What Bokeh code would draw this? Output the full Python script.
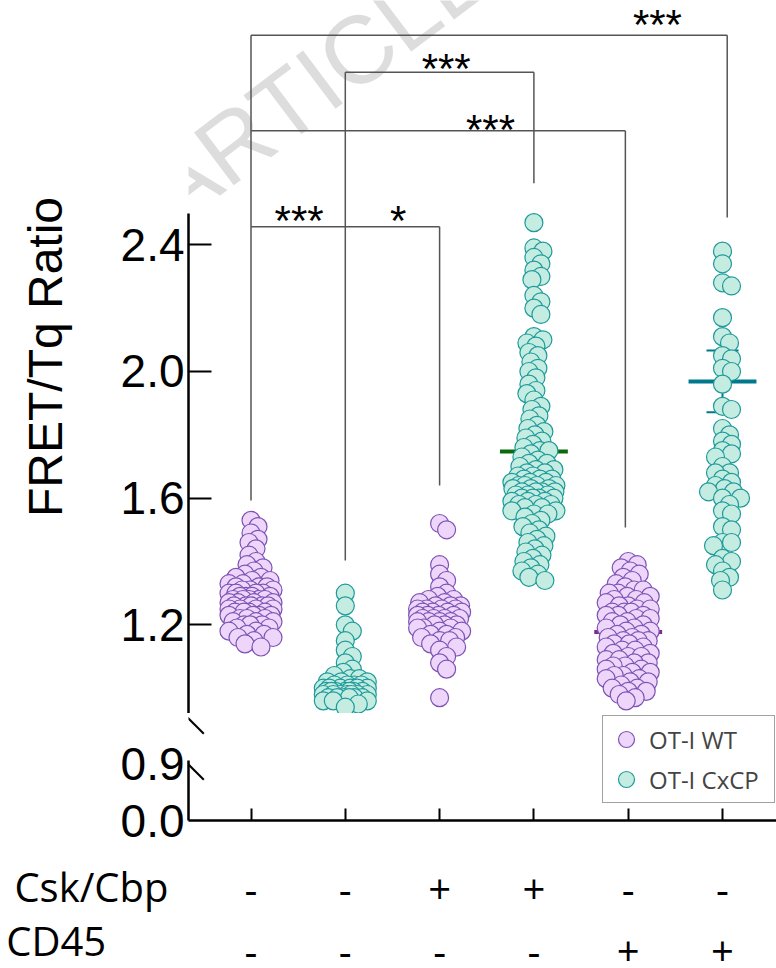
import math
from bokeh.plotting import figure
from bokeh.layouts import column
from bokeh.models import (Range1d, FixedTicker, ColumnDataSource, Legend,
                          LegendItem, Label, Arrow)
from bokeh.core.properties import value
from bokeh.embed import file_html
from bokeh.resources import INLINE

# ---------------- data ----------------
group_pos = [1, 2, 3, 4, 5, 6]
genotype = ["OT-I WT", "OT-I CxCP", "OT-I WT", "OT-I CxCP", "OT-I WT", "OT-I CxCP"]
csk_cbp = ["-", "-", "+", "+", "-", "-"]
cd45 = ["-", "-", "-", "-", "+", "+"]
row_titles = ["Csk/Cbp", "CD45"]

g1 = [1.53, 1.51, 1.49, 1.47, 1.46, 1.44, 1.42, 1.40, 1.39, 1.38, 1.37, 1.36,
      1.35, 1.35, 1.34, 1.34, 1.33, 1.33, 1.32, 1.32, 1.32, 1.31, 1.31, 1.31,
      1.30, 1.30, 1.30, 1.30, 1.29, 1.29, 1.29, 1.29, 1.28, 1.28, 1.28, 1.28, 1.28,
      1.27, 1.27, 1.27, 1.27, 1.26, 1.26, 1.26, 1.26, 1.26, 1.25, 1.25, 1.25, 1.25,
      1.24, 1.24, 1.24, 1.24, 1.23, 1.23, 1.23, 1.23, 1.22, 1.22, 1.22, 1.21, 1.21,
      1.21, 1.20, 1.20, 1.20, 1.19, 1.19, 1.18, 1.18, 1.17, 1.17, 1.16, 1.16, 1.15,
      1.14, 1.13]
g2 = [1.30, 1.26, 1.20, 1.18, 1.15, 1.12, 1.10, 1.08, 1.06, 1.05, 1.04, 1.03, 1.03,
      1.02, 1.02, 1.02, 1.01, 1.01, 1.01, 1.01, 1.00, 1.00, 1.00, 1.00, 1.00, 1.00,
      0.99, 0.99, 0.99, 0.99, 0.99, 0.99, 0.99, 0.98, 0.98, 0.98, 0.98, 0.98, 0.98,
      0.98, 0.97, 0.97, 0.97, 0.97, 0.97, 0.97, 0.96, 0.96, 0.96, 0.95, 0.94]
g3 = [1.52, 1.50, 1.39, 1.36, 1.34, 1.32, 1.30, 1.29, 1.28, 1.28, 1.27, 1.27, 1.26,
      1.26, 1.26, 1.25, 1.25, 1.25, 1.25, 1.24, 1.24, 1.24, 1.24, 1.23, 1.23, 1.23,
      1.23, 1.22, 1.22, 1.22, 1.22, 1.21, 1.21, 1.21, 1.21, 1.20, 1.20, 1.20, 1.19,
      1.19, 1.19, 1.18, 1.18, 1.17, 1.17, 1.16, 1.16, 1.15, 1.15, 1.14, 1.13, 1.12,
      1.10, 1.08, 1.06, 0.97]
g4 = [2.47, 2.39, 2.38, 2.36, 2.34, 2.32, 2.30, 2.29, 2.24, 2.22, 2.20, 2.18, 2.11,
      2.10, 2.09, 2.08, 2.06, 2.05, 2.03, 2.01, 2.00, 1.98, 1.96, 1.94, 1.93, 1.91,
      1.89, 1.88, 1.86, 1.85, 1.83, 1.82, 1.81, 1.80, 1.79, 1.78, 1.77, 1.76, 1.75,
      1.75, 1.74, 1.73, 1.72, 1.71, 1.71, 1.70, 1.69, 1.69, 1.68, 1.68, 1.67, 1.67,
      1.66, 1.66, 1.66, 1.65, 1.65, 1.65, 1.64, 1.64, 1.64, 1.64, 1.63, 1.63, 1.63,
      1.62, 1.62, 1.62, 1.62, 1.61, 1.61, 1.61, 1.60, 1.60, 1.60, 1.60, 1.59, 1.59,
      1.59, 1.58, 1.58, 1.58, 1.57, 1.57, 1.56, 1.56, 1.55, 1.55, 1.54, 1.53, 1.52,
      1.51, 1.50, 1.49, 1.48, 1.47, 1.46, 1.45, 1.44, 1.43, 1.42, 1.41, 1.40, 1.39,
      1.38, 1.37, 1.36, 1.35, 1.34]
g5 = [1.40, 1.39, 1.38, 1.37, 1.36, 1.35, 1.34, 1.33, 1.32, 1.31, 1.31, 1.30, 1.30,
      1.29, 1.29, 1.28, 1.28, 1.27, 1.27, 1.26, 1.26, 1.25, 1.25, 1.24, 1.24, 1.24,
      1.23, 1.23, 1.23, 1.22, 1.22, 1.21, 1.21, 1.20, 1.20, 1.19, 1.19, 1.18, 1.18,
      1.17, 1.17, 1.16, 1.16, 1.15, 1.15, 1.15, 1.14, 1.14, 1.13, 1.13, 1.12, 1.12,
      1.11, 1.11, 1.10, 1.10, 1.09, 1.09, 1.08, 1.08, 1.07, 1.07, 1.06, 1.06, 1.05,
      1.05, 1.04, 1.04, 1.03, 1.03, 1.02, 1.02, 1.01, 1.00, 1.00, 0.99, 0.99, 0.98,
      0.97, 0.96]
g6 = [2.38, 2.34, 2.28, 2.27, 2.17, 2.11, 2.09, 2.05, 2.04, 2.01, 2.00, 1.96, 1.89,
      1.88, 1.82, 1.80, 1.78, 1.77, 1.75, 1.74, 1.73, 1.70, 1.68, 1.68, 1.66, 1.65,
      1.64, 1.63, 1.62, 1.62, 1.60, 1.60, 1.58, 1.56, 1.55, 1.51, 1.50, 1.46, 1.46,
      1.45, 1.41, 1.40, 1.39, 1.37, 1.35, 1.34, 1.31]
group_values = [g1, g2, g3, g4, g5, g6]

mean_group = [4, 5, 6]
mean_value = [1.747, 1.177, 1.968]
err_group = [6]
err_low = [1.871]
err_high = [2.066]

br_from = [1, 2, 1, 1]
br_to = [6, 4, 5, 3]
br_level = [3.062, 2.945, 2.760, 2.457]
leg_x = [1.0, 2.0, 3.0, 4.0, 4.97, 6.05]
leg_end = [1.593, 1.403, 1.640, 2.594, 1.507, 2.486]
sig_text = ["***", "***", "***", "***", "*"]
sig_x = [5.31, 3.07, 3.54, 1.51, 2.56]
sig_y = [3.095, 2.958, 2.764, 2.478, 2.478]

yticks_upper = [1.2, 1.6, 2.0, 2.4]
yticks_lower = [0.0, 0.9]

# ---------------- layout / style ----------------
W = 776
LEFT = 188
FW = W - LEFT
PX_X = 94.3
G1_X = 250.5
X_LO = 1 - (G1_X - LEFT) / PX_X
X_HI = X_LO + FW / PX_X

FH_U = 713
PX_Y = 316.7
Y_TOP = 2.4 + 244.3 / PX_Y
Y_BOT = Y_TOP - FH_U / PX_Y

FH_L = 107
PX_YL = 63.3
BOT_AX = 28
B_TOP = FH_U + FH_L + BOT_AX
FH_B = 967 - B_TOP

WT_FILL, WT_LINE = "#EDD6FA", "#7E52B4"
CX_FILL, CX_LINE = "#C4ECE0", "#1E9A9C"
MEAN_COL = ["#0B6A0B", "#7B2E8C", "#00798C"]
BR_COL = "#555555"
FONT = "Liberation Sans"
FONT2 = "Open Sans"
NBSP = "\u00a0"


def px_to_x(px):
    return 1 + (px - G1_X) / PX_X


def py_to_u(py):
    return 2.4 - (py - 244.3) / PX_Y


def py_to_l(py):
    return (820 - py) / PX_YL


def swarm_offsets(vals, d_eff=9.0, max_off=22.0):
    cands = [0.0]
    for k in range(1, int(max_off) + 1):
        cands += [float(k), -float(k)]
    placed, offs = [], []
    for v in vals:
        y = v * PX_Y
        chosen = None
        best_c, best_d = 0.0, -1.0
        for c in cands:
            md = 1e9
            for (qx, qy) in placed:
                if abs(qy - y) < d_eff:
                    dd = math.hypot(c - qx, y - qy)
                    if dd < md:
                        md = dd
            if md >= d_eff:
                chosen = c
                break
            if md > best_d:
                best_d, best_c = md, c
        if chosen is None:
            chosen = best_c
        placed.append((chosen, y))
        offs.append(chosen)
    return offs


xr = Range1d(X_LO, X_HI)

# ---------------- upper figure ----------------
pu = figure(frame_width=FW, frame_height=FH_U, x_range=xr,
            y_range=Range1d(Y_BOT, Y_TOP), output_backend="svg",
            toolbar_location=None, x_axis_location=None,
            min_border_left=LEFT, min_border_right=0, min_border_top=0,
            min_border_bottom=0, outline_line_color=None)
pu.grid.visible = False
ay = pu.yaxis[0]
ay.ticker = FixedTicker(ticks=yticks_upper)
ay.major_label_overrides = {t: f"{t:.1f}" for t in yticks_upper}
ay.bounds = (0.9, 2.5)
ay.major_tick_in = 23
ay.major_tick_out = 0
ay.minor_tick_line_color = None
ay.major_tick_line_width = 2
ay.axis_line_width = 2.5
ay.major_label_text_font = FONT
ay.major_label_text_font_size = "46px"
ay.major_label_text_color = "black"
ay.major_label_standoff = 4
ay.axis_label = "FRET/Tq Ratio"
ay.axis_label_text_font = FONT
ay.axis_label_text_font_size = "48px"
ay.axis_label_text_font_style = "normal"
ay.axis_label_text_color = "black"
ay.axis_label_standoff = 46

# watermark (annotation, drawn before the bracket annotations)
wm = Label(x=px_to_x(188), y=py_to_u(244), text="ARTICLE IN PRESS",
           angle=37, angle_units="deg", text_font=FONT,
           text_font_size="96px", text_color="#dddddd")
pu.add_layout(wm)

# brackets
bx0, by0, bx1, by1 = [], [], [], []
for a, b, lvl in zip(br_from, br_to, br_level):
    bx0.append(leg_x[a - 1]); by0.append(lvl)
    bx1.append(leg_x[b - 1]); by1.append(lvl)
for i, g in enumerate(group_pos):
    lv = [lvl for a, b, lvl in zip(br_from, br_to, br_level) if g in (a, b)]
    bx0.append(leg_x[i]); by0.append(max(lv))
    bx1.append(leg_x[i]); by1.append(leg_end[i])
br_src = ColumnDataSource(dict(x0=bx0, y0=by0, x1=bx1, y1=by1))
pu.add_layout(Arrow(source=br_src, x_start="x0", y_start="y0", x_end="x1",
                    y_end="y1", start=None, end=None, line_color=BR_COL,
                    line_width=1.5))
pu.text(x=sig_x, y=sig_y, text=sig_text, text_font=value(FONT),
        text_font_size=value("42px"), text_align="center",
        text_baseline="middle", text_color="black")

# mean lines & error bar (under the points)
HALF = 0.36
pu.segment(x0=[g - HALF for g in mean_group], y0=mean_value,
           x1=[g + HALF for g in mean_group], y1=mean_value,
           line_color=MEAN_COL, line_width=4)
pu.segment(x0=err_group, y0=err_low, x1=err_group, y1=err_high,
           line_color=MEAN_COL[2], line_width=2)
CAP = 0.17
pu.segment(x0=[g - CAP for g in err_group] * 2, y0=err_low + err_high,
           x1=[g + CAP for g in err_group] * 2, y1=err_low + err_high,
           line_color=MEAN_COL[2], line_width=2)

# points
for gpos, vals, gt in zip(group_pos, group_values, genotype):
    offs = swarm_offsets(vals)
    src = ColumnDataSource(dict(x=[gpos + o / PX_X for o in offs], y=vals))
    wt = gt == "OT-I WT"
    pu.scatter("x", "y", source=src, size=18, marker="circle",
               fill_color=WT_FILL if wt else CX_FILL,
               line_color=WT_LINE if wt else CX_LINE, line_width=1.2)

# break slash (upper part)
pu.add_layout(Arrow(start=None, end=None, x_start=px_to_x(172.7), y_start=py_to_u(702.7),
                    x_end=px_to_x(203.3), y_end=py_to_u(733.3),
                    line_color="black", line_width=2))

# ---------------- lower figure ----------------
pl = figure(frame_width=FW, frame_height=FH_L, x_range=xr,
            y_range=Range1d(0, FH_L / PX_YL), output_backend="svg",
            toolbar_location=None, min_border_left=LEFT, min_border_right=0,
            min_border_top=0, min_border_bottom=BOT_AX, outline_line_color=None)
pl.grid.visible = False
ly = pl.yaxis[0]
ly.ticker = FixedTicker(ticks=yticks_lower)
ly.major_label_overrides = {t: f"{t:.1f}" for t in yticks_lower}
ly.bounds = (0.0, 0.95)
ly.major_tick_in = 0
ly.major_tick_out = 0
ly.minor_tick_line_color = None
ly.axis_line_width = 2.5
ly.major_label_text_font = FONT
ly.major_label_text_font_size = "46px"
ly.major_label_text_color = "black"
ly.major_label_standoff = 4
lx = pl.xaxis[0]
lx.ticker = FixedTicker(ticks=group_pos)
lx.major_label_text_font_size = "1px"
lx.major_label_text_color = None
lx.major_label_standoff = 0
lx.major_tick_in = 12
lx.major_tick_out = 0
lx.minor_tick_line_color = None
lx.major_tick_line_width = 2
lx.axis_line_width = 2.5

pl.add_layout(Arrow(start=None, end=None, x_start=px_to_x(172.7), y_start=py_to_l(702.7),
                    x_end=px_to_x(203.3), y_end=py_to_l(733.3),
                    line_color="black", line_width=2))
pl.add_layout(Arrow(start=None, end=None, x_start=px_to_x(183.3), y_start=py_to_l(759.3),
                    x_end=px_to_x(203.3), y_end=py_to_l(779.3),
                    line_color="black", line_width=2))

nan = float("nan")
r_wt = pl.scatter(x=[nan], y=[nan], size=18, marker="circle", fill_color=WT_FILL,
                  line_color=WT_LINE, line_width=1.2)
r_cx = pl.scatter(x=[nan], y=[nan], size=18, marker="circle", fill_color=CX_FILL,
                  line_color=CX_LINE, line_width=1.2)
leg = Legend(items=[LegendItem(label=genotype[0], renderers=[r_wt]),
                    LegendItem(label=genotype[1], renderers=[r_cx])],
             location=(414, 17), glyph_width=40, glyph_height=40, spacing=0,
             padding=3, margin=0, label_standoff=3, label_width=122,
             label_text_font=FONT2, label_text_font_size="24px",
             border_line_color="#444444", border_line_width=1.5,
             background_fill_color="white", background_fill_alpha=1.0)
pl.add_layout(leg)

# ---------------- bottom rows ----------------
ROW_LABEL_Y = [886, 950]
ROW_SIGN_Y = [889, 951]
pb = figure(frame_width=FW, frame_height=FH_B, x_range=xr,
            y_range=Range1d(B_TOP + FH_B, B_TOP), output_backend="svg",
            toolbar_location=None, x_axis_location=None,
            min_border_left=LEFT, min_border_right=0, min_border_top=0,
            min_border_bottom=0, outline_line_color=None)
pb.grid.visible = False
by = pb.yaxis[0]
by.ticker = FixedTicker(ticks=ROW_LABEL_Y)
by.major_label_overrides = {ROW_LABEL_Y[0]: row_titles[0],
                            ROW_LABEL_Y[1]: row_titles[1] + NBSP * 6}
by.axis_line_color = None
by.major_tick_line_color = None
by.minor_tick_line_color = None
by.major_tick_in = 0
by.major_tick_out = 0
by.minor_tick_in = 0
by.minor_tick_out = 0
by.major_label_standoff = 20
by.major_label_text_font = FONT2
by.major_label_text_font_size = "40px"
by.major_label_text_color = "black"
pb.text(x=group_pos, y=[ROW_SIGN_Y[0]] * 6, text=csk_cbp, text_font=value(FONT2),
        text_font_size=value("40px"), text_align="center",
        text_baseline="alphabetic", text_color="black")
pb.text(x=group_pos, y=[ROW_SIGN_Y[1]] * 6, text=cd45, text_font=value(FONT2),
        text_font_size=value("40px"), text_align="center",
        text_baseline="alphabetic", text_color="black")

layout = column(pu, pl, pb, spacing=0)
open("out.html", "w").write(file_html(layout, INLINE))
